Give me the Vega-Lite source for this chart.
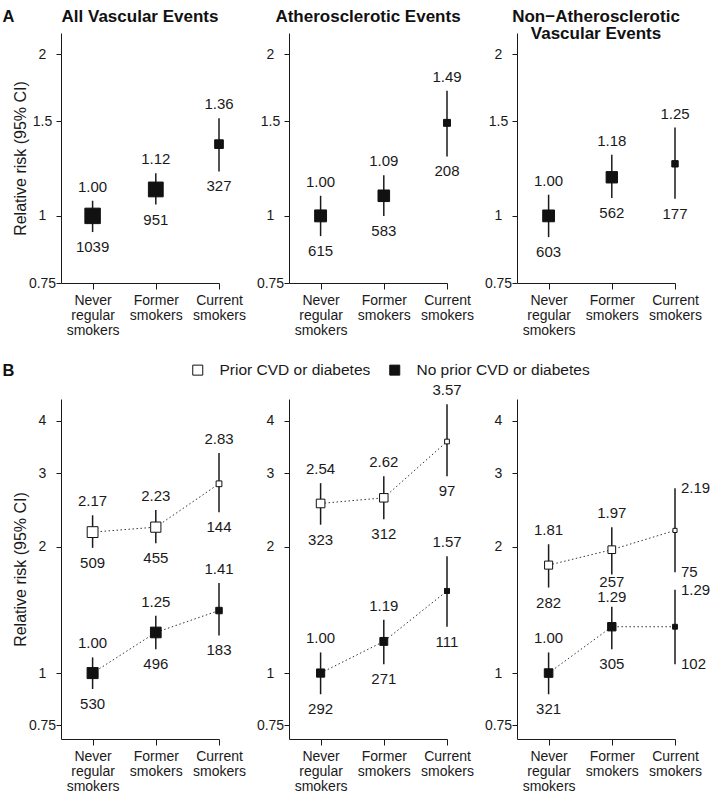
{
  "$schema": "https://vega.github.io/schema/vega-lite/v6.json",
  "padding": {"left": 2, "top": 8, "right": 1, "bottom": 2},
  "title": {"text": "A", "anchor": "start", "frame": "bounds", "offset": -17, "fontSize": 16.5},
  "config": {
    "view": {"stroke": null},
    "font": "Liberation Sans",
    "title": {"fontSize": 17, "fontWeight": "bold", "color": "#111111", "lineHeight": 17, "anchor": "middle", "font": "Liberation Sans"},
    "axis": {"grid": false, "domainColor": "#1a1a1a", "tickColor": "#1a1a1a", "labelColor": "#1a1a1a", "titleColor": "#1a1a1a", "labelFontSize": 14, "titleFontSize": 16, "titleFontWeight": "normal", "labelFont": "Liberation Sans", "titleFont": "Liberation Sans"},
    "axisX": {"tickSize": 6, "labelPadding": 4, "labelAngle": 0, "labelLineHeight": 15, "labelBaseline": "top"},
    "axisY": {"tickSize": 5, "labelAlign": "center", "labelPadding": 14, "titlePadding": 0},
    "text": {"fontSize": 15, "color": "#1a1a1a", "font": "Liberation Sans"}
  },
  "datasets": {
    "d": [
      {"row": "A", "panel": "All Vascular Events", "grp": "All", "smoking": "Never regular smokers", "rr": 1.00, "lo": 0.933, "hi": 1.067, "n": 1039},
      {"row": "A", "panel": "All Vascular Events", "grp": "All", "smoking": "Former smokers", "rr": 1.12, "lo": 1.05, "hi": 1.20, "n": 951},
      {"row": "A", "panel": "All Vascular Events", "grp": "All", "smoking": "Current smokers", "rr": 1.36, "lo": 1.21, "hi": 1.52, "n": 327},
      {"row": "A", "panel": "Atherosclerotic Events", "grp": "All", "smoking": "Never regular smokers", "rr": 1.00, "lo": 0.917, "hi": 1.09, "n": 615},
      {"row": "A", "panel": "Atherosclerotic Events", "grp": "All", "smoking": "Former smokers", "rr": 1.09, "lo": 1.00, "hi": 1.19, "n": 583},
      {"row": "A", "panel": "Atherosclerotic Events", "grp": "All", "smoking": "Current smokers", "rr": 1.49, "lo": 1.29, "hi": 1.71, "n": 208},
      {"row": "A", "panel": "Non-Atherosclerotic Vascular Events", "grp": "All", "smoking": "Never regular smokers", "rr": 1.00, "lo": 0.913, "hi": 1.095, "n": 603},
      {"row": "A", "panel": "Non-Atherosclerotic Vascular Events", "grp": "All", "smoking": "Former smokers", "rr": 1.18, "lo": 1.08, "hi": 1.30, "n": 562},
      {"row": "A", "panel": "Non-Atherosclerotic Vascular Events", "grp": "All", "smoking": "Current smokers", "rr": 1.25, "lo": 1.076, "hi": 1.46, "n": 177},

      {"row": "B", "panel": "All Vascular Events", "grp": "Prior CVD or diabetes", "smoking": "Never regular smokers", "rr": 2.17, "lo": 1.99, "hi": 2.38, "n": 509},
      {"row": "B", "panel": "All Vascular Events", "grp": "Prior CVD or diabetes", "smoking": "Former smokers", "rr": 2.23, "lo": 2.04, "hi": 2.45, "n": 455},
      {"row": "B", "panel": "All Vascular Events", "grp": "Prior CVD or diabetes", "smoking": "Current smokers", "rr": 2.83, "lo": 2.42, "hi": 3.35, "n": 144},
      {"row": "B", "panel": "All Vascular Events", "grp": "No prior CVD or diabetes", "smoking": "Never regular smokers", "rr": 1.00, "lo": 0.916, "hi": 1.09, "n": 530},
      {"row": "B", "panel": "All Vascular Events", "grp": "No prior CVD or diabetes", "smoking": "Former smokers", "rr": 1.25, "lo": 1.14, "hi": 1.37, "n": 496},
      {"row": "B", "panel": "All Vascular Events", "grp": "No prior CVD or diabetes", "smoking": "Current smokers", "rr": 1.41, "lo": 1.23, "hi": 1.64, "n": 183},

      {"row": "B", "panel": "Atherosclerotic Events", "grp": "Prior CVD or diabetes", "smoking": "Never regular smokers", "rr": 2.54, "lo": 2.26, "hi": 2.84, "n": 323},
      {"row": "B", "panel": "Atherosclerotic Events", "grp": "Prior CVD or diabetes", "smoking": "Former smokers", "rr": 2.62, "lo": 2.33, "hi": 2.95, "n": 312},
      {"row": "B", "panel": "Atherosclerotic Events", "grp": "Prior CVD or diabetes", "smoking": "Current smokers", "rr": 3.57, "lo": 2.95, "hi": 4.38, "n": 97},
      {"row": "B", "panel": "Atherosclerotic Events", "grp": "No prior CVD or diabetes", "smoking": "Never regular smokers", "rr": 1.00, "lo": 0.89, "hi": 1.12, "n": 292},
      {"row": "B", "panel": "Atherosclerotic Events", "grp": "No prior CVD or diabetes", "smoking": "Former smokers", "rr": 1.19, "lo": 1.05, "hi": 1.34, "n": 271},
      {"row": "B", "panel": "Atherosclerotic Events", "grp": "No prior CVD or diabetes", "smoking": "Current smokers", "rr": 1.57, "lo": 1.29, "hi": 1.90, "n": 111},

      {"row": "B", "panel": "Non-Atherosclerotic Vascular Events", "grp": "Prior CVD or diabetes", "smoking": "Never regular smokers", "rr": 1.81, "lo": 1.60, "hi": 2.03, "n": 282},
      {"row": "B", "panel": "Non-Atherosclerotic Vascular Events", "grp": "Prior CVD or diabetes", "smoking": "Former smokers", "rr": 1.97, "lo": 1.72, "hi": 2.23, "n": 257},
      {"row": "B", "panel": "Non-Atherosclerotic Vascular Events", "grp": "Prior CVD or diabetes", "smoking": "Current smokers", "rr": 2.19, "lo": 1.74, "hi": 2.76, "n": 75},
      {"row": "B", "panel": "Non-Atherosclerotic Vascular Events", "grp": "No prior CVD or diabetes", "smoking": "Never regular smokers", "rr": 1.00, "lo": 0.89, "hi": 1.12, "n": 321},
      {"row": "B", "panel": "Non-Atherosclerotic Vascular Events", "grp": "No prior CVD or diabetes", "smoking": "Former smokers", "rr": 1.29, "lo": 1.14, "hi": 1.44, "n": 305},
      {"row": "B", "panel": "Non-Atherosclerotic Vascular Events", "grp": "No prior CVD or diabetes", "smoking": "Current smokers", "rr": 1.29, "lo": 1.05, "hi": 1.58, "n": 102}
    ]
  },
  "data": {"name": "d"},
  "columns": 3,
  "spacing": {"row": 116, "column": 70},
  "bounds": "flush",
  "concat": [
    {
      "width": 158, "height": 250,
      "title": {"text": "All Vascular Events", "offset": 7},
      "transform": [{"filter": "datum.row === 'A' && datum.panel === 'All Vascular Events'"}],
      "encoding": {"x": {"field": "smoking", "type": "nominal", "sort": null, "title": null, "scale": {"type": "point", "padding": 0.25, "align": 1, "domain": ["Never regular smokers", "Former smokers", "Current smokers"]}, "axis": {"labelExpr": "split(datum.label, ' ')"}}},
      "layer": [
        {"mark": {"type": "rule", "color": "#1a1a1a", "strokeWidth": 1.5},
         "encoding": {"y": {"field": "lo", "type": "quantitative", "title": "Relative risk (95% CI)", "scale": {"type": "log", "domain": [0.75, 2.19], "nice": false, "zero": false}, "axis": {"values": [0.75, 1, 1.5, 2], "format": "~g"}}, "y2": {"field": "hi"}}},
        {"mark": {"type": "point", "shape": "square", "filled": true, "color": "#111111", "opacity": 1, "stroke": "#111111", "strokeWidth": 1},
         "encoding": {"y": {"field": "rr", "type": "quantitative", "title": "Relative risk (95% CI)"}, "size": {"field": "n", "type": "quantitative", "scale": {"domain": [0, 1200], "range": [0, 276]}, "legend": null}}},
        {"mark": {"type": "text", "baseline": "bottom", "dy": -6},
         "encoding": {"y": {"field": "hi", "type": "quantitative", "title": "Relative risk (95% CI)"}, "text": {"field": "rr", "type": "quantitative", "format": ".2f"}}},
        {"mark": {"type": "text", "baseline": "top", "dy": 8},
         "encoding": {"y": {"field": "lo", "type": "quantitative", "title": "Relative risk (95% CI)"}, "text": {"field": "n", "type": "quantitative", "format": "d"}}}
      ]
    },
    {
      "width": 158, "height": 250,
      "title": {"text": "Atherosclerotic Events", "offset": 7},
      "transform": [{"filter": "datum.row === 'A' && datum.panel === 'Atherosclerotic Events'"}],
      "encoding": {"x": {"field": "smoking", "type": "nominal", "sort": null, "title": null, "scale": {"type": "point", "padding": 0.25, "align": 1, "domain": ["Never regular smokers", "Former smokers", "Current smokers"]}, "axis": {"labelExpr": "split(datum.label, ' ')"}}},
      "layer": [
        {"mark": {"type": "rule", "color": "#1a1a1a", "strokeWidth": 1.5},
         "encoding": {"y": {"field": "lo", "type": "quantitative", "title": null, "scale": {"type": "log", "domain": [0.75, 2.19], "nice": false, "zero": false}, "axis": {"values": [0.75, 1, 1.5, 2], "format": "~g"}}, "y2": {"field": "hi"}}},
        {"mark": {"type": "point", "shape": "square", "filled": true, "color": "#111111", "opacity": 1, "stroke": "#111111", "strokeWidth": 1},
         "encoding": {"y": {"field": "rr", "type": "quantitative", "title": null}, "size": {"field": "n", "type": "quantitative", "scale": {"domain": [0, 1200], "range": [0, 276]}, "legend": null}}},
        {"mark": {"type": "text", "baseline": "bottom", "dy": -6},
         "encoding": {"y": {"field": "hi", "type": "quantitative", "title": null}, "text": {"field": "rr", "type": "quantitative", "format": ".2f"}}},
        {"mark": {"type": "text", "baseline": "top", "dy": 8},
         "encoding": {"y": {"field": "lo", "type": "quantitative", "title": null}, "text": {"field": "n", "type": "quantitative", "format": "d"}}}
      ]
    },
    {
      "width": 158, "height": 250,
      "title": {"text": ["Non−Atherosclerotic", "Vascular Events"], "offset": -10},
      "transform": [{"filter": "datum.row === 'A' && datum.panel === 'Non-Atherosclerotic Vascular Events'"}],
      "encoding": {"x": {"field": "smoking", "type": "nominal", "sort": null, "title": null, "scale": {"type": "point", "padding": 0.25, "align": 1, "domain": ["Never regular smokers", "Former smokers", "Current smokers"]}, "axis": {"labelExpr": "split(datum.label, ' ')"}}},
      "layer": [
        {"mark": {"type": "rule", "color": "#1a1a1a", "strokeWidth": 1.5},
         "encoding": {"y": {"field": "lo", "type": "quantitative", "title": null, "scale": {"type": "log", "domain": [0.75, 2.19], "nice": false, "zero": false}, "axis": {"values": [0.75, 1, 1.5, 2], "format": "~g"}}, "y2": {"field": "hi"}}},
        {"mark": {"type": "point", "shape": "square", "filled": true, "color": "#111111", "opacity": 1, "stroke": "#111111", "strokeWidth": 1},
         "encoding": {"y": {"field": "rr", "type": "quantitative", "title": null}, "size": {"field": "n", "type": "quantitative", "scale": {"domain": [0, 1200], "range": [0, 276]}, "legend": null}}},
        {"mark": {"type": "text", "baseline": "bottom", "dy": -6},
         "encoding": {"y": {"field": "hi", "type": "quantitative", "title": null}, "text": {"field": "rr", "type": "quantitative", "format": ".2f"}}},
        {"mark": {"type": "text", "baseline": "top", "dy": 8},
         "encoding": {"y": {"field": "lo", "type": "quantitative", "title": null}, "text": {"field": "n", "type": "quantitative", "format": "d"}}}
      ]
    },
    {
      "width": 158, "height": 340,
      "title": {"text": "B", "anchor": "start", "dx": -10, "offset": 20, "fontSize": 16.5},
      "transform": [{"filter": "datum.row === 'B' && datum.panel === 'All Vascular Events'"}],
      "encoding": {"x": {"field": "smoking", "type": "nominal", "sort": null, "title": null, "scale": {"type": "point", "padding": 0.25, "align": 1, "domain": ["Never regular smokers", "Former smokers", "Current smokers"]}, "axis": {"labelExpr": "split(datum.label, ' ')"}}},
      "layer": [
        {"mark": {"type": "rule", "color": "#1a1a1a", "strokeWidth": 1.5},
         "encoding": {"y": {"field": "lo", "type": "quantitative", "title": "Relative risk (95% CI)", "scale": {"type": "log", "domain": [0.696, 4.51], "nice": false, "zero": false}, "axis": {"values": [0.75, 1, 2, 3, 4], "format": "~g"}}, "y2": {"field": "hi"}}},
        {"mark": {"type": "line", "color": "#333333", "strokeWidth": 1, "strokeDash": [1.5, 2.5]},
         "encoding": {"y": {"field": "rr", "type": "quantitative", "title": "Relative risk (95% CI)"}, "detail": {"field": "grp", "type": "nominal"}}},
        {"mark": {"type": "point", "shape": "square", "filled": true, "opacity": 1, "stroke": "#111111", "strokeWidth": 1},
         "encoding": {"y": {"field": "rr", "type": "quantitative", "title": "Relative risk (95% CI)"}, "size": {"field": "n", "type": "quantitative", "scale": {"domain": [0, 1200], "range": [0, 276]}, "legend": null},
           "fill": {"field": "grp", "type": "nominal", "scale": {"domain": ["Prior CVD or diabetes", "No prior CVD or diabetes"], "range": ["#ffffff", "#111111"]}, "legend": {"orient": "none", "legendX": 129, "legendY": 329, "direction": "horizontal", "title": null, "symbolType": "square", "symbolSize": 100, "symbolStrokeColor": "#111111", "symbolStrokeWidth": 1, "symbolOpacity": 1, "labelFontSize": 15.5, "labelOffset": 14, "columnPadding": 16, "padding": 0, "labelColor": "#1a1a1a", "labelLimit": 300}}}},
        {"mark": {"type": "text", "baseline": "bottom", "dy": -6},
         "encoding": {"y": {"field": "hi", "type": "quantitative", "title": "Relative risk (95% CI)"}, "text": {"field": "rr", "type": "quantitative", "format": ".2f"}}},
        {"mark": {"type": "text", "baseline": "top", "dy": 8},
         "encoding": {"y": {"field": "lo", "type": "quantitative", "title": "Relative risk (95% CI)"}, "text": {"field": "n", "type": "quantitative", "format": "d"}}}
      ]
    },
    {
      "width": 158, "height": 340,
      "transform": [{"filter": "datum.row === 'B' && datum.panel === 'Atherosclerotic Events'"}],
      "encoding": {"x": {"field": "smoking", "type": "nominal", "sort": null, "title": null, "scale": {"type": "point", "padding": 0.25, "align": 1, "domain": ["Never regular smokers", "Former smokers", "Current smokers"]}, "axis": {"labelExpr": "split(datum.label, ' ')"}}},
      "layer": [
        {"mark": {"type": "rule", "color": "#1a1a1a", "strokeWidth": 1.5},
         "encoding": {"y": {"field": "lo", "type": "quantitative", "title": null, "scale": {"type": "log", "domain": [0.696, 4.51], "nice": false, "zero": false}, "axis": {"values": [0.75, 1, 2, 3, 4], "format": "~g"}}, "y2": {"field": "hi"}}},
        {"mark": {"type": "line", "color": "#333333", "strokeWidth": 1, "strokeDash": [1.5, 2.5]},
         "encoding": {"y": {"field": "rr", "type": "quantitative", "title": null}, "detail": {"field": "grp", "type": "nominal"}}},
        {"mark": {"type": "point", "shape": "square", "filled": true, "opacity": 1, "stroke": "#111111", "strokeWidth": 1},
         "encoding": {"y": {"field": "rr", "type": "quantitative", "title": null}, "size": {"field": "n", "type": "quantitative", "scale": {"domain": [0, 1200], "range": [0, 276]}, "legend": null},
           "fill": {"field": "grp", "type": "nominal", "scale": {"domain": ["Prior CVD or diabetes", "No prior CVD or diabetes"], "range": ["#ffffff", "#111111"]}, "legend": {"orient": "none", "legendX": 129, "legendY": 329, "direction": "horizontal", "title": null, "symbolType": "square", "symbolSize": 100, "symbolStrokeColor": "#111111", "symbolStrokeWidth": 1, "symbolOpacity": 1, "labelFontSize": 15.5, "labelOffset": 14, "columnPadding": 16, "padding": 0, "labelColor": "#1a1a1a", "labelLimit": 300}}}},
        {"mark": {"type": "text", "baseline": "bottom", "dy": -6},
         "encoding": {"y": {"field": "hi", "type": "quantitative", "title": null}, "text": {"field": "rr", "type": "quantitative", "format": ".2f"}}},
        {"mark": {"type": "text", "baseline": "top", "dy": 8},
         "encoding": {"y": {"field": "lo", "type": "quantitative", "title": null}, "text": {"field": "n", "type": "quantitative", "format": "d"}}}
      ]
    },
    {
      "width": 158, "height": 340,
      "transform": [{"filter": "datum.row === 'B' && datum.panel === 'Non-Atherosclerotic Vascular Events'"}],
      "encoding": {"x": {"field": "smoking", "type": "nominal", "sort": null, "title": null, "scale": {"type": "point", "padding": 0.25, "align": 1, "domain": ["Never regular smokers", "Former smokers", "Current smokers"]}, "axis": {"labelExpr": "split(datum.label, ' ')"}}},
      "layer": [
        {"mark": {"type": "rule", "color": "#1a1a1a", "strokeWidth": 1.5},
         "encoding": {"y": {"field": "lo", "type": "quantitative", "title": null, "scale": {"type": "log", "domain": [0.696, 4.51], "nice": false, "zero": false}, "axis": {"values": [0.75, 1, 2, 3, 4], "format": "~g"}}, "y2": {"field": "hi"}}},
        {"mark": {"type": "line", "color": "#333333", "strokeWidth": 1, "strokeDash": [1.5, 2.5]},
         "encoding": {"y": {"field": "rr", "type": "quantitative", "title": null}, "detail": {"field": "grp", "type": "nominal"}}},
        {"mark": {"type": "point", "shape": "square", "filled": true, "opacity": 1, "stroke": "#111111", "strokeWidth": 1},
         "encoding": {"y": {"field": "rr", "type": "quantitative", "title": null}, "size": {"field": "n", "type": "quantitative", "scale": {"domain": [0, 1200], "range": [0, 276]}, "legend": null},
           "fill": {"field": "grp", "type": "nominal", "scale": {"domain": ["Prior CVD or diabetes", "No prior CVD or diabetes"], "range": ["#ffffff", "#111111"]}, "legend": {"orient": "none", "legendX": 129, "legendY": 329, "direction": "horizontal", "title": null, "symbolType": "square", "symbolSize": 100, "symbolStrokeColor": "#111111", "symbolStrokeWidth": 1, "symbolOpacity": 1, "labelFontSize": 15.5, "labelOffset": 14, "columnPadding": 16, "padding": 0, "labelColor": "#1a1a1a", "labelLimit": 300}}}},
        {"transform": [{"filter": "datum.smoking === 'Never regular smokers' || (datum.smoking === 'Former smokers' && datum.grp === 'Prior CVD or diabetes')"}],
         "mark": {"type": "text", "baseline": "bottom", "dy": -6},
         "encoding": {"y": {"field": "hi", "type": "quantitative", "title": null}, "text": {"field": "rr", "type": "quantitative", "format": ".2f"}}},
        {"transform": [{"filter": "datum.smoking === 'Former smokers' && datum.grp === 'No prior CVD or diabetes'"}],
         "mark": {"type": "text", "baseline": "bottom", "dy": -2},
         "encoding": {"y": {"field": "hi", "type": "quantitative", "title": null}, "text": {"field": "rr", "type": "quantitative", "format": ".2f"}}},
        {"transform": [{"filter": "datum.smoking === 'Never regular smokers' || (datum.smoking === 'Former smokers' && datum.grp === 'No prior CVD or diabetes')"}],
         "mark": {"type": "text", "baseline": "top", "dy": 8},
         "encoding": {"y": {"field": "lo", "type": "quantitative", "title": null}, "text": {"field": "n", "type": "quantitative", "format": "d"}}},
        {"transform": [{"filter": "datum.smoking === 'Former smokers' && datum.grp === 'Prior CVD or diabetes'"}],
         "mark": {"type": "text", "baseline": "top", "dy": 0.5},
         "encoding": {"y": {"field": "lo", "type": "quantitative", "title": null}, "text": {"field": "n", "type": "quantitative", "format": "d"}}},
        {"transform": [{"filter": "datum.smoking === 'Current smokers'"}],
         "mark": {"type": "text", "baseline": "middle", "align": "left", "dx": 6},
         "encoding": {"y": {"field": "hi", "type": "quantitative", "title": null}, "text": {"field": "rr", "type": "quantitative", "format": ".2f"}}},
        {"transform": [{"filter": "datum.smoking === 'Current smokers'"}],
         "mark": {"type": "text", "baseline": "middle", "align": "left", "dx": 6},
         "encoding": {"y": {"field": "lo", "type": "quantitative", "title": null}, "text": {"field": "n", "type": "quantitative", "format": "d"}}}
      ]
    }
  ]
}
